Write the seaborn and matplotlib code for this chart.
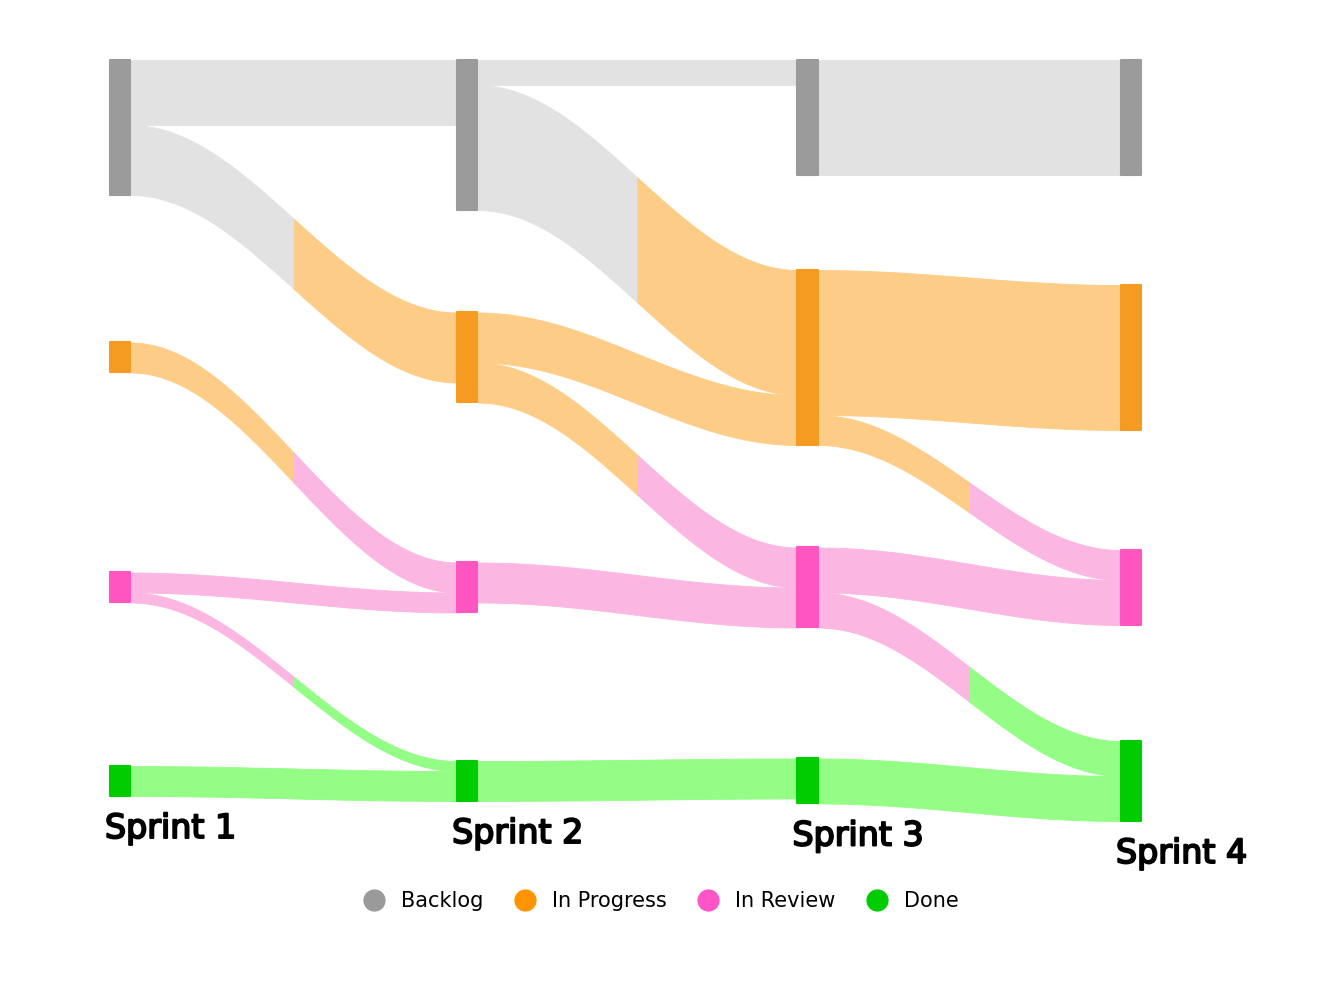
import numpy as np
import pandas as pd
import matplotlib.pyplot as plt
import matplotlib.patheffects as pe
from matplotlib.lines import Line2D
import seaborn as sns

sns.set_theme(style="white")
plt.rcParams['font.family'] = ['DejaVu Sans']

# sprint columns and task states
sprints = ["Sprint 1", "Sprint 2", "Sprint 3", "Sprint 4"]
statuses = ["Backlog", "In Progress", "In Review", "Done"]

# moves of tasks between one sprint and the next (step 0 = Sprint 1 -> Sprint 2)
step = [0, 0, 0, 0, 0, 0,
        1, 1, 1, 1, 1, 1,
        2, 2, 2, 2, 2, 2]
src = ["Backlog", "Backlog", "In Progress", "In Review", "In Review", "Done",
       "Backlog", "Backlog", "In Progress", "In Progress", "In Review", "Done",
       "Backlog", "In Progress", "In Progress", "In Review", "In Review", "Done"]
dst = ["Backlog", "In Progress", "In Review", "In Review", "Done", "Done",
       "Backlog", "In Progress", "In Progress", "In Review", "In Review", "Done",
       "Backlog", "In Progress", "In Review", "In Review", "Done", "Done"]
tasks = [13, 14, 6, 4, 2, 6,
         5, 25, 10, 8, 8, 8,
         23, 29, 6, 9, 7, 9]

node_colors = ["#9b9b9b", "#f59b22", "#ff55c0", "#00cc00"]
flow_colors = ["#e2e2e2", "#fdcd88", "#fcb6e2", "#93fd85"]
legend_colors = ["#9a9a9a", "#ff9300", "#ff55c6", "#00cc00"]

df = pd.DataFrame({"step": step, "src": src, "dst": dst, "tasks": tasks})
si = {s: i for i, s in enumerate(statuses)}
n = len(sprints)

# node size = larger of what comes in and what goes out
out_tot = np.zeros((n, len(statuses)))
in_tot = np.zeros((n, len(statuses)))
for r in df.itertuples():
    out_tot[r.step, si[r.src]] += r.tasks
    in_tot[r.step + 1, si[r.dst]] += r.tasks
height = np.maximum(out_tot, in_tot)

# Backlog hangs from the top, the other states sit centred on their own lane
lane = [0, 59.5, 105.5, 144.2]
top = np.zeros_like(height)
for k in range(1, len(statuses)):
    top[:, k] = lane[k] - height[:, k] / 2

fig = plt.figure(figsize=(13.38, 10), dpi=100)
ax = fig.add_axes([0, 0, 1, 1])
ax.set_xlim(-0.3264, 3.6439)
ax.set_ylim(188, -12)
ax.axis('off')

# column positions (slightly uneven, as drawn)
x = np.array([0, 1.03, 2.04, 3.0])
w = 0.06


def ease(t):
    return (1 - np.cos(np.pi * t)) / 2


out_off = top.copy()
in_off = top.copy()
for r in df.itertuples():
    a, b, i = si[r.src], si[r.dst], r.step
    y0 = out_off[i, a]
    out_off[i, a] += r.tasks
    y1 = in_off[i + 1, b]
    in_off[i + 1, b] += r.tasks
    xs = np.linspace(x[i] + w, x[i + 1], 201)
    upper = y0 + (y1 - y0) * ease((xs - xs[0]) / (xs[-1] - xs[0]))
    mid = xs[100]
    first = xs <= mid
    second = xs >= mid
    for part, col in [(first, flow_colors[a]), (second, flow_colors[b])]:
        ax.fill_between(xs[part], upper[part], upper[part] + r.tasks,
                        color=col, lw=0.6, edgecolor=col)

for k, st in enumerate(statuses):
    for i in range(n):
        if height[i, k] > 0:
            ax.bar(x[i], height[i, k], bottom=top[i, k], width=w, align='edge',
                   color=node_colors[k], lw=1.5, edgecolor=node_colors[k],
                   joinstyle='round')

# sprint names under each column
for i, name in enumerate(sprints):
    bottom = top[i, 3] + height[i, 3]
    ax.text(x[i] - 0.015, bottom + 3.2, name, ha='left', va='top', fontsize=24,
            color='black', path_effects=[pe.withStroke(linewidth=1.4, foreground='black')])

handles = [Line2D([], [], marker='o', ls='', markersize=15, markerfacecolor=c,
                  markeredgecolor=c) for c in legend_colors]
leg = fig.legend(handles, statuses, loc='center', bbox_to_anchor=(656 / 1338, 1 - 901 / 1000),
                 ncol=4, frameon=False, fontsize=15, handletextpad=0.3, columnspacing=1.0)
for t in leg.get_texts():
    t.set_color('black')

plt.savefig("out.png", dpi=100)
